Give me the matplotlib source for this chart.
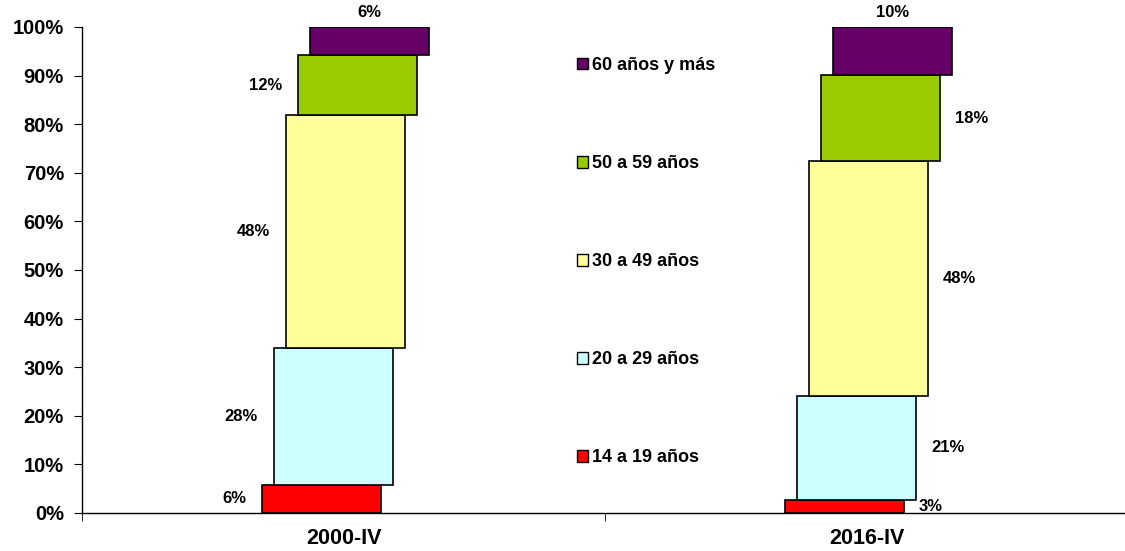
import matplotlib
matplotlib.use("Agg")
import matplotlib.pyplot as plt
from matplotlib.patches import Patch

plt.rcParams['font.family'] = ['Liberation Sans', 'DejaVu Sans']
plt.rcParams['font.weight'] = 'bold'

# data
periods = ["2000-IV", "2016-IV"]
groups = ["14 a 19 años", "20 a 29 años", "30 a 49 años", "50 a 59 años", "60 años y más"]
share_2000 = [5.8, 28.1, 48.0, 12.3, 5.8]
share_2016 = [2.7, 21.4, 48.3, 17.7, 9.9]
labels_2000 = ["6%", "28%", "48%", "12%", "6%"]
labels_2016 = ["3%", "21%", "48%", "18%", "10%"]
colors = ["#FF0000", "#CCFFFF", "#FFFF99", "#99CC00", "#660066"]

fig = plt.figure(figsize=(11.25, 5.51), dpi=100)
ax = fig.add_axes([0.0729, 0.069, 0.93, 0.882])

width = 0.2275
step = 0.023
values = [share_2000, share_2016]
texts = [labels_2000, labels_2016]

for i, vals in enumerate(values):
    bottom = 0
    for j, v in enumerate(vals):
        x = i + (j - 2) * step + 0.003
        ax.bar(x, v, width=width, bottom=bottom, color=colors[j],
               edgecolor="black", linewidth=1.2, zorder=2)
        lab = texts[i][j]
        if j == 4:
            # top label above the bar
            ax.text(x, 100 + 1.5, lab, ha="center", va="bottom",
                    fontsize=12, fontweight="bold")
        elif i == 0:
            ax.text(x - width / 2 - 0.03, bottom + v / 2, lab, ha="right",
                    va="center", fontsize=12, fontweight="bold")
        else:
            ax.text(x + width / 2 + 0.029, bottom + v / 2, lab, ha="left",
                    va="center", fontsize=12, fontweight="bold")
        bottom += v

ax.set_xlim(-0.5, 1.5)
ax.set_ylim(0, 100)

ax.set_yticks(range(0, 101, 10))
ax.set_yticklabels([f"{t}%" for t in range(0, 101, 10)], fontsize=14.5, fontweight="bold")
ax.set_xticks([0, 1])
ax.set_xticklabels(periods, fontsize=15.5, fontweight="bold")
ax.tick_params(axis="x", length=0, pad=11)
ax.set_xticks([-0.5, 0.5, 1.5], minor=True)
ax.tick_params(axis="x", which="minor", length=6, direction="out")
ax.tick_params(axis="y", length=6, direction="out", pad=7)

for s in ["top", "right"]:
    ax.spines[s].set_visible(False)
ax.spines["left"].set_linewidth(1.0)
ax.spines["bottom"].set_linewidth(1.0)

handles = [Patch(facecolor=c, edgecolor="black", linewidth=1.0) for c in colors]
leg = fig.legend(handles[::-1], groups[::-1], loc="center left",
                 bbox_to_anchor=(0.513, 0.525), frameon=False,
                 borderpad=0, borderaxespad=0, handlelength=0.6,
                 handleheight=0.6, handletextpad=0.25, labelspacing=4.49,
                 prop={"size": 13, "weight": "bold"})

fig.savefig("out.png", dpi=100)
